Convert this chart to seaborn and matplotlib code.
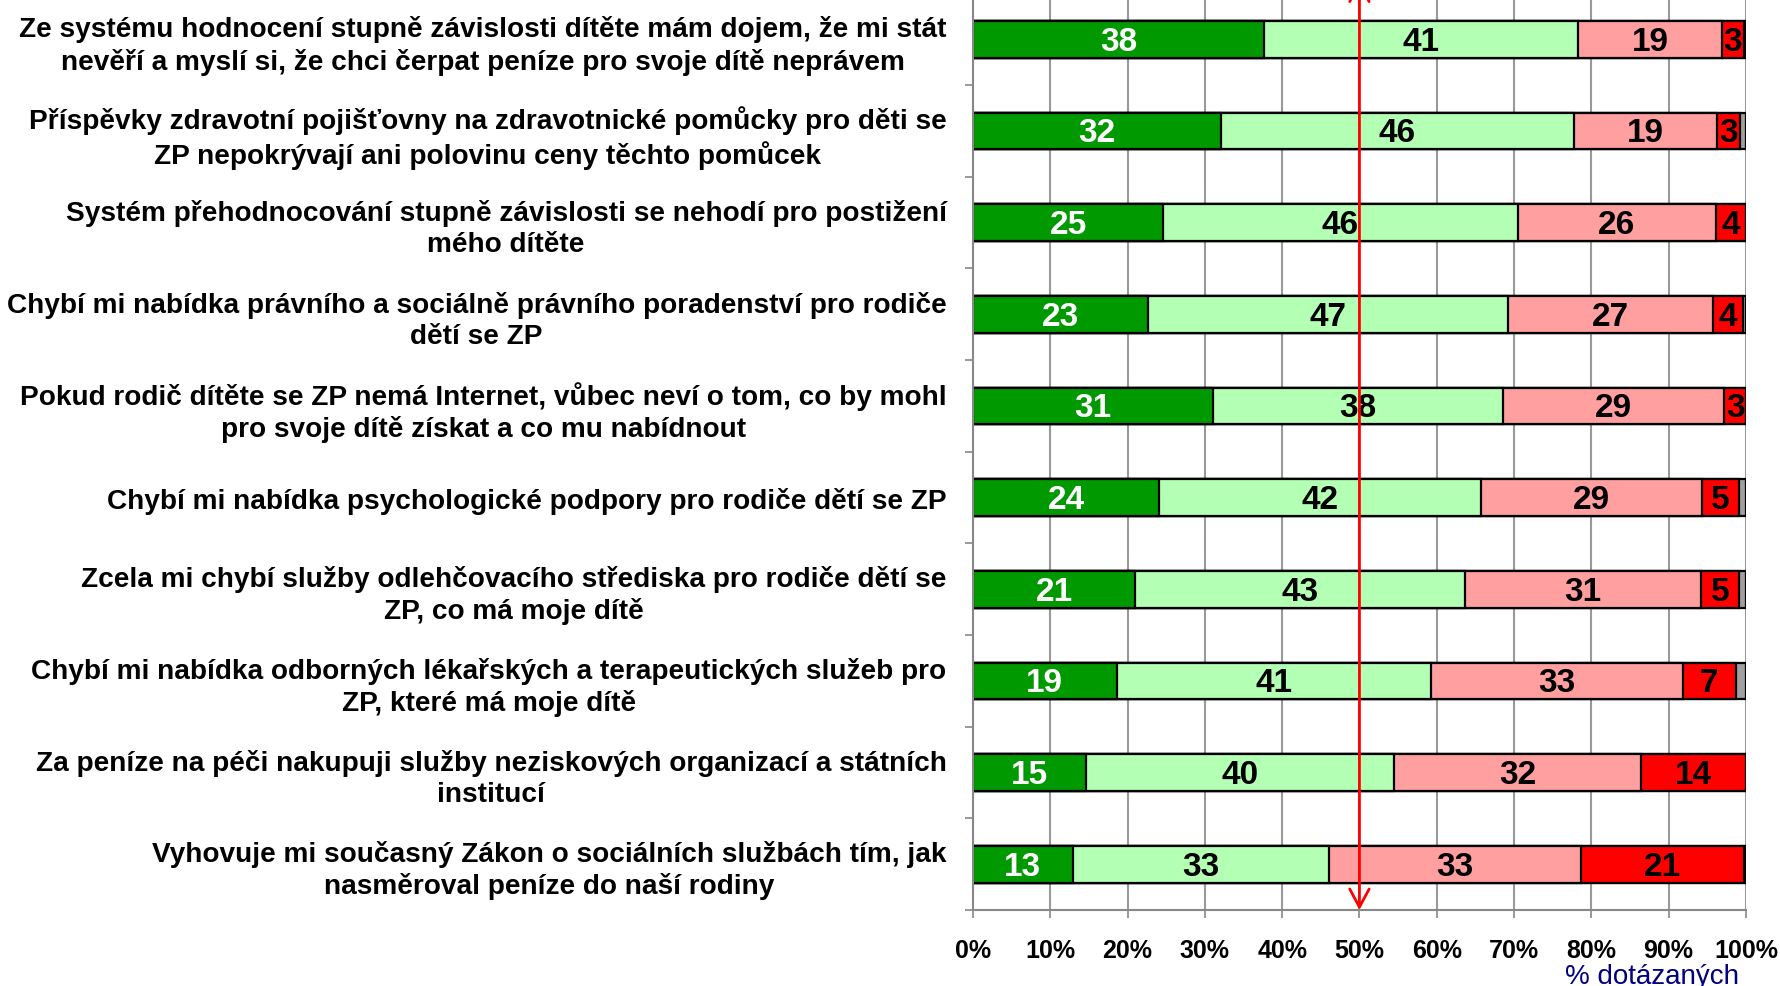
import numpy as np
import pandas as pd
import matplotlib
matplotlib.use("Agg")
import matplotlib.pyplot as plt
import seaborn as sns

# =======================
# Data (podíly odpovědí v %)
# =======================
otazky = [
    "Ze systému hodnocení stupně závislosti dítěte mám dojem, že mi stát\nnevěří a myslí si, že chci čerpat peníze pro svoje dítě neprávem",
    "Příspěvky zdravotní pojišťovny na zdravotnické pomůcky pro děti se\nZP nepokrývají ani polovinu ceny těchto pomůcek",
    "Systém přehodnocování stupně závislosti se nehodí pro postižení\nmého dítěte",
    "Chybí mi nabídka právního a sociálně právního poradenství pro rodiče\ndětí se ZP",
    "Pokud rodič dítěte se ZP nemá Internet, vůbec neví o tom, co by mohl\npro svoje dítě získat a co mu nabídnout",
    "Chybí mi nabídka psychologické podpory pro rodiče dětí se ZP",
    "Zcela mi chybí služby odlehčovacího střediska pro rodiče dětí se\nZP, co má moje dítě",
    "Chybí mi nabídka odborných lékařských a terapeutických služeb pro\nZP, které má moje dítě",
    "Za peníze na péči nakupuji služby neziskových organizací a státních\ninstitucí",
    "Vyhovuje mi současný Zákon o sociálních službách tím, jak\nnasměroval peníze do naší rodiny",
]
zcela_souhlas = [37.7, 32.1, 24.6, 22.6, 31.0, 24.1, 21.0, 18.6, 14.6, 12.9]
spise_souhlas = [40.6, 45.6, 45.9, 46.6, 37.6, 41.6, 42.6, 40.6, 39.9, 33.1]
spise_nesouhlas = [18.6, 18.6, 25.6, 26.6, 28.6, 28.6, 30.6, 32.6, 31.9, 32.7]
zcela_nesouhlas = [2.8, 2.9, 3.9, 3.8, 2.8, 4.8, 4.9, 6.9, 13.6, 21.0]
bez_odpovedi = [0.3, 0.8, 0.0, 0.4, 0.0, 0.9, 0.9, 1.3, 0.0, 0.3]

x_ticks = [0, 10, 20, 30, 40, 50, 60, 70, 80, 90, 100]
x_ticklabels = [f"{t}%" for t in x_ticks]

serie = [zcela_souhlas, spise_souhlas, spise_nesouhlas, zcela_nesouhlas, bez_odpovedi]
barvy = ["#009900", "#b3ffb3", "#ff9f9f", "#ff0000", "#a0a0a0"]
barvy_textu = ["white", "black", "black", "black", None]

df = pd.DataFrame({"otazka": otazky})
cum = np.zeros(len(otazky))
lefts = []
for s in serie:
    lefts.append(cum.copy())
    cum = cum + np.array(s)
    df[f"c{len(lefts)}"] = cum

# =======================
# Graf
# =======================
sns.set_style("white")
plt.rcParams["font.family"] = ["Liberation Sans", "DejaVu Sans"]
plt.rcParams["text.color"] = "black"
plt.rcParams["xtick.color"] = "black"
plt.rcParams["ytick.color"] = "black"

fig = plt.figure(figsize=(17.81, 9.87), dpi=100)
ax = fig.add_axes([0.5463, 0.0770, 0.4340, 0.9286])

# stacked bars: draw cumulative totals from the largest down
for i in range(len(serie), 0, -1):
    sns.barplot(data=df, x=f"c{i}", y="otazka", orient="h", color=barvy[i - 1],
                saturation=1, edgecolor="black", linewidth=1.6, width=0.4, ax=ax)

# value labels
for s, left, tc in zip(serie, lefts, barvy_textu):
    if tc is None:
        continue
    for j, v in enumerate(s):
        ax.text(left[j] + v / 2, j + 0.02, f"{v:.0f}", ha="center", va="center",
                color=tc, fontsize=24, fontweight="bold",
                family=["Liberation Sans Narrow", "Liberation Sans"])

ax.set_xlim(0, 100)
ax.set_ylim(len(otazky) - 0.5, -0.5)
ax.set_xticks(x_ticks)
ax.set_xticklabels(x_ticklabels, fontsize=18, fontweight="bold")
ax.set_yticks(range(len(otazky)))
ax.set_yticklabels(otazky, fontsize=20.2, fontweight="bold", ha="right",
                   multialignment="center", linespacing=1.25)
ax.set_yticks(np.arange(-0.5, len(otazky), 1), minor=True)
ax.tick_params(axis="y", which="major", length=0, pad=19)
ax.tick_params(axis="y", which="minor", length=6, width=1.2, color="#888888", direction="out", left=True)
ax.tick_params(axis="x", length=6, width=1.2, color="#888888", labelcolor="black",
               direction="out", bottom=True, pad=14)
ax.set_xlabel("")
ax.set_ylabel("")

ax.set_axisbelow(True)
ax.xaxis.grid(True, color="#999999", linewidth=1.5)
ax.yaxis.grid(False)
for side in ["top", "right"]:
    ax.spines[side].set_visible(False)
for side in ["left", "bottom"]:
    ax.spines[side].set_color("#888888")
    ax.spines[side].set_linewidth(1.5)

# red 50% arrow
ax.annotate("", xy=(50, len(otazky) - 0.5), xytext=(50, -0.64),
            arrowprops=dict(arrowstyle="<->,head_length=1.3,head_width=0.7", color="red",
                            lw=2, shrinkA=0, shrinkB=0, mutation_scale=10),
            annotation_clip=False, zorder=10)

fig.text(1652 / 1781, 1 - 977 / 987, "% dotázaných", ha="center", va="center",
         color="#000080", fontsize=20)

fig.savefig("out.png", dpi=100)
